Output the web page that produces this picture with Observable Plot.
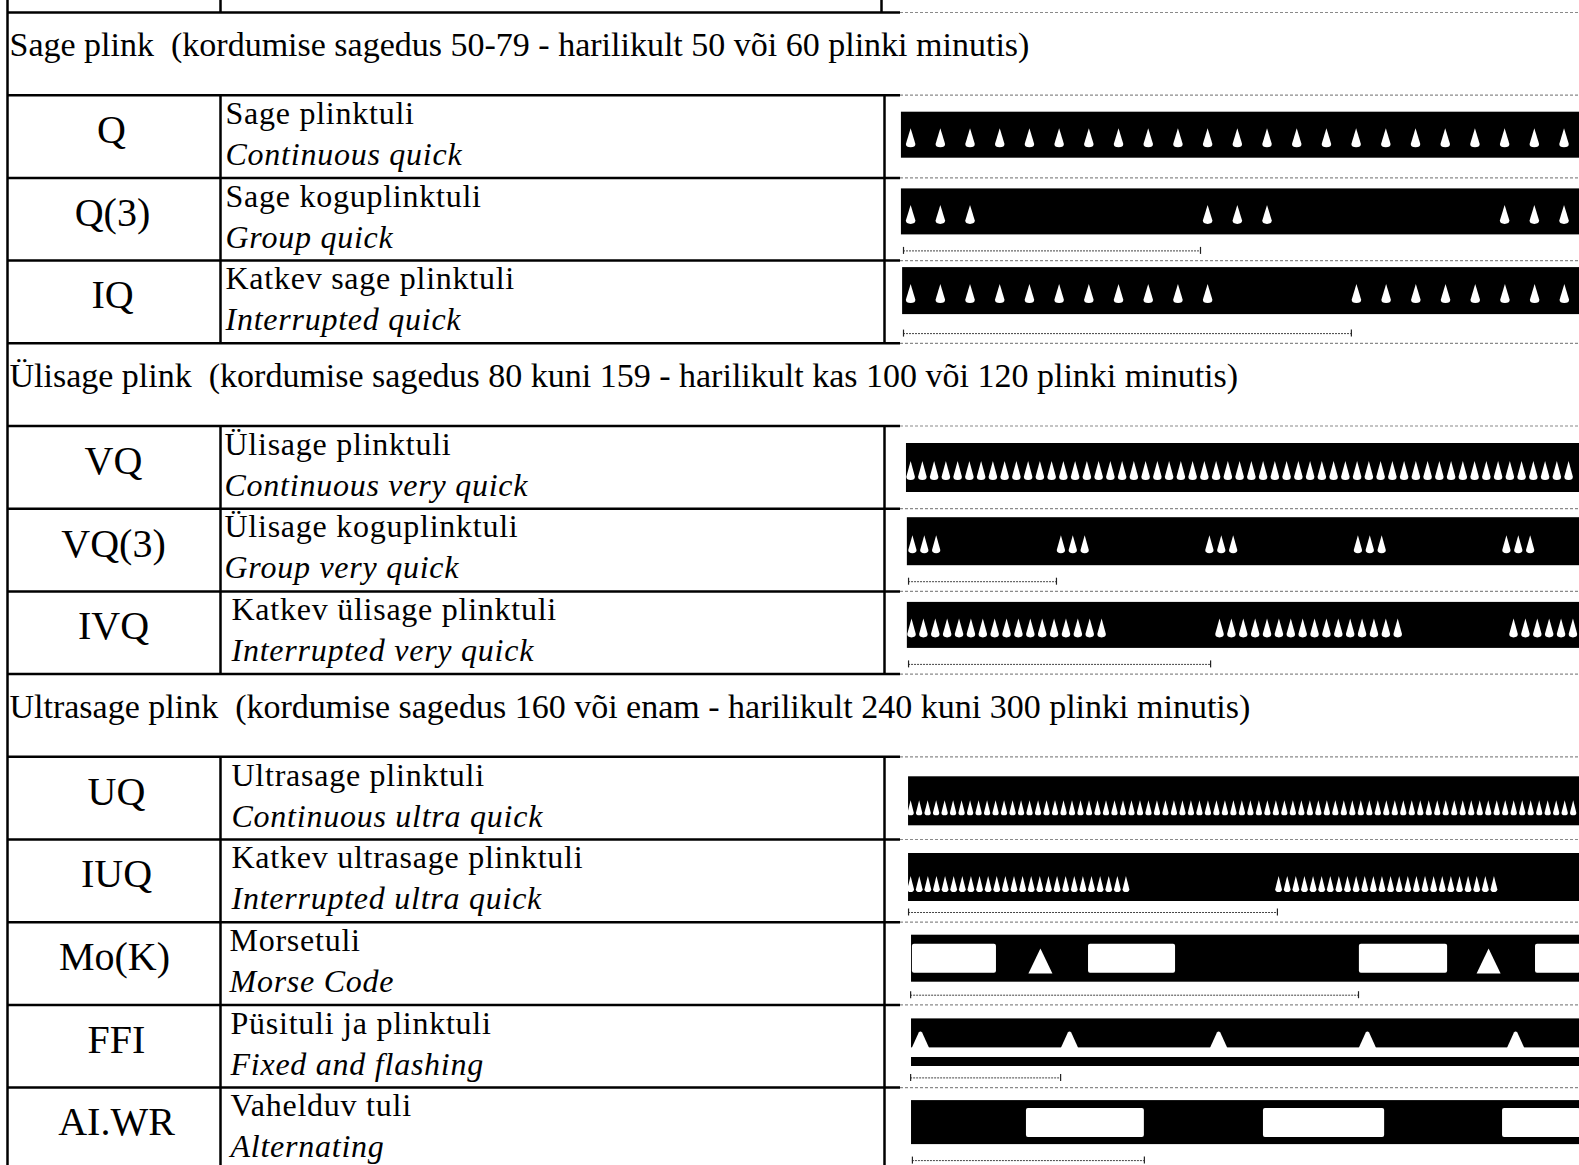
<!DOCTYPE html>
<html><head><meta charset="utf-8">
<script src="https://cdn.jsdelivr.net/npm/d3@7"></script>
<script src="https://cdn.jsdelivr.net/npm/@observablehq/plot@0.6"></script>
<style>
html,body{margin:0;padding:0;background:#fff;}
#wrap{position:relative;width:1579px;height:1165px;overflow:hidden;background:#fff;}
#wrap svg{position:absolute;left:0;top:0;}
</style></head><body><div id="wrap"></div>
<script>
// ---------------- data ----------------
const rowOrder = ["S1","Q","Q(3)","IQ","S2","VQ","VQ(3)","IVQ","S3","UQ","IUQ","Mo(K)","FFI","AI.WR"];
const sectionKeys = ["S1","S2","S3"];
const sectionTitles = [
  "Sage plink  (kordumise sagedus 50-79 - harilikult 50 või 60 plinki minutis)",
  "Ülisage plink  (kordumise sagedus 80 kuni 159 - harilikult kas 100 või 120 plinki minutis)",
  "Ultrasage plink  (kordumise sagedus 160 või enam - harilikult 240 kuni 300 plinki minutis)"
];
const codes = ["Q","Q(3)","IQ","VQ","VQ(3)","IVQ","UQ","IUQ","Mo(K)","FFI","AI.WR"];
const namesEt = ["Sage plinktuli","Sage koguplinktuli","Katkev sage plinktuli","Ülisage plinktuli","Ülisage koguplinktuli","Katkev ülisage plinktuli","Ultrasage plinktuli","Katkev ultrasage plinktuli","Morsetuli","Püsituli ja plinktuli","Vahelduv tuli"];
const namesEn = ["Continuous quick","Group quick","Interrupted quick","Continuous very quick","Group very quick","Interrupted very quick","Continuous ultra quick","Interrupted ultra quick","Morse Code","Fixed and flashing","Alternating"];
// time axis of the light-pattern column (seconds)
const barStart = [-0.07,-0.07,-0.03,0.10,0.13,0.13,0.17,0.17,0.27,0.27,0.27];
const barEnd = 22.8;
// flash groups: row, first flash (s), flashes in the group, interval (s)
const flashGroups = [
  ["Q", 0.24, 23, 1.0],
  ["Q(3)", 0.24, 3, 1.0], ["Q(3)", 10.24, 3, 1.0], ["Q(3)", 20.24, 3, 1.0],
  ["IQ", 0.24, 11, 1.0], ["IQ", 15.25, 8, 1.0],
  ["VQ", 0.24, 57, 0.3956],
  ["VQ(3)", 0.30, 3, 0.40], ["VQ(3)", 5.30, 3, 0.40], ["VQ(3)", 10.30, 3, 0.40], ["VQ(3)", 15.30, 3, 0.40], ["VQ(3)", 20.30, 3, 0.40],
  ["IVQ", 0.27, 17, 0.40], ["IVQ", 10.64, 16, 0.40], ["IVQ", 20.54, 6, 0.40],
  ["UQ", 0.24, 79, 0.286],
  ["IUQ", 0.24, 26, 0.29], ["IUQ", 12.63, 26, 0.29]
];
const morseDashStart = [0.30, 6.23, 15.35, 21.28];
const morseDashEnd = [3.13, 9.16, 18.32, 22.8];
const morseDots = [4.61, 19.70];
const fixedFlashes = [0.57, 5.59, 10.61, 15.62, 20.61];
const whiteStart = [4.14, 12.12, 20.17];
const whiteEnd = [8.11, 16.20, 22.8];
const periodCodes = ["Q(3)","IQ","VQ(3)","IVQ","IUQ","Mo(K)","FFI","AI.WR"];
const periodStart = [0, 0, 0.17, 0.17, 0.17, 0.24, 0.24, 0.30];
const periodEnd = [10.0, 15.08, 5.15, 10.34, 12.59, 15.32, 5.29, 8.11];

// ---------------- layout / style ----------------
const W = 1579, H = 1165, TOP = 12, BAND = 82.7, HALF = BAND / 2;
const COL_LEFT = 7, COL_CODE = 220, COL_NAME = 884, TICK_END = 900;
const T0PX = 903, PXS = 29.7;  // pixel of t = 0 s, pixels per second
const SERIF = "'Liberation Serif','Times New Roman',serif";
const nameX = {"Q":225,"Q(3)":225,"IQ":225,"VQ":224,"VQ(3)":224,"IVQ":231,"UQ":231,"IUQ":231,"Mo(K)":229,"FFI":230,"AI.WR":230};
const codeX = {"Q":111,"Q(3)":112,"IQ":112,"VQ":113,"VQ(3)":113,"IVQ":113,"UQ":116,"IUQ":116,"Mo(K)":114,"FFI":116,"AI.WR":116};
const barBox = {"Q":[17,63],"Q(3)":[11,57],"IQ":[7,54],"VQ":[17.5,66.5],"VQ(3)":[9,57],"IVQ":[11,57],"UQ":[20,69],"IUQ":[14,62],"Mo(K)":[13,60],"FFI":[14,43],"AI.WR":[13,57]};
const flashR = {"Q":9.5,"Q(3)":9.5,"IQ":9.5,"VQ":9.5,"VQ(3)":9,"IVQ":9.5,"UQ":7.5,"IUQ":8};
const flashK = {"Q":0.5,"Q(3)":0.5,"IQ":0.5,"VQ":0.45,"VQ(3)":0.46,"IVQ":0.45,"UQ":0.42,"IUQ":0.42};
const flashLift = {"UQ":4,"IUQ":4};

const spike = k => ({draw(ctx, size) {
  const r = Math.sqrt(size / Math.PI), w = r * k;
  ctx.moveTo(0, -r); ctx.lineTo(w, 0.65 * r);
  ctx.quadraticCurveTo(w, r, 0, r); ctx.quadraticCurveTo(-w, r, -w, 0.65 * r);
  ctx.closePath();
}});
const tri = {draw(ctx, size) {
  const r = Math.sqrt(size / Math.PI);
  ctx.moveTo(0, -r); ctx.lineTo(0.96 * r, r); ctx.lineTo(-0.96 * r, r); ctx.closePath();
}};
const notch = {draw(ctx, size) {
  const r = Math.sqrt(size / Math.PI), h = 2 * r;
  ctx.moveTo(-1.05 * r, 0.5); ctx.lineTo(-0.2 * r, -h + 1.5);
  ctx.quadraticCurveTo(0, -h - 0.5, 0.2 * r, -h + 1.5);
  ctx.lineTo(1.05 * r, 0.5); ctx.closePath();
}};

// ---------------- derived tables ----------------
const lightRows = codes.map((c, i) => ({key: c, code: c, et: namesEt[i], en: namesEn[i], start: barStart[i], end: barEnd}));
const sections = sectionKeys.map((k, i) => ({key: k, title: sectionTitles[i]}));
const flashes = flashGroups.flatMap(([key, t0, n, dt]) => d3.range(n).map(j => ({key, t: t0 + j * dt})));
const periods = periodCodes.map((k, i) => ({key: k, start: periodStart[i], end: periodEnd[i]}));
const periodEnds = periods.flatMap(p => [{key: p.key, t: p.start}, {key: p.key, t: p.end}]);
const dashes = morseDashStart.map((s, i) => ({key: "Mo(K)", start: s, end: morseDashEnd[i]}));
const whites = whiteStart.map((s, i) => ({key: "AI.WR", start: s, end: whiteEnd[i]}));

const yScale = {type: "band", domain: rowOrder, range: [TOP, TOP + rowOrder.length * BAND], padding: 0, round: false, axis: null};
const base = {width: W, height: H, marginTop: 0, marginRight: 0, marginBottom: 0, marginLeft: 0,
  style: {background: "transparent", overflow: "visible"}};

// ---------------- table (left part) ----------------
const table = Plot.plot({
  ...base,
  x: {type: "linear", domain: [0, W], range: [0, W], axis: null},
  y: yScale,
  marks: [
    Plot.tickX([COL_CODE, 881], {x: d => d, y: () => rowOrder[0], dy: -TOP, insetBottom: BAND - TOP, stroke: "#000", strokeWidth: 2.5}),
    Plot.ruleX([COL_LEFT], {stroke: "#000", strokeWidth: 2.5}),
    Plot.ruleY(rowOrder, {y: d => d, x1: TICK_END, x2: W, dy: -HALF, stroke: "#8a8a8a", strokeWidth: 1.2, strokeDasharray: "3,2"}),
    Plot.ruleY(rowOrder, {y: d => d, x1: COL_LEFT, x2: TICK_END, dy: -HALF, stroke: "#000", strokeWidth: 2.5}),
    Plot.tickX(lightRows, {x: () => COL_CODE, y: "key", stroke: "#000", strokeWidth: 2.5}),
    Plot.tickX(lightRows, {x: () => COL_NAME, y: "key", stroke: "#000", strokeWidth: 2.5}),
    Plot.text(sections, {x: 9, y: "key", text: "title", textAnchor: "start", dy: 33 - HALF, fontSize: 34, fontFamily: SERIF, fill: "#000"}),
    Plot.text(lightRows, {x: d => codeX[d.key], y: "key", text: "code", dy: 35 - HALF, fontSize: 40, fontFamily: SERIF, fill: "#000"}),
    Plot.text(lightRows, {x: d => nameX[d.key], y: "key", text: "et", textAnchor: "start", dy: 18.5 - HALF, fontSize: 32, fontFamily: SERIF, fill: "#000"}),
    Plot.text(lightRows, {x: d => nameX[d.key], y: "key", text: "en", textAnchor: "start", dy: 59.5 - HALF, fontSize: 32, fontFamily: SERIF, fontStyle: "italic", fill: "#000"})
  ]
});

// ---------------- light patterns (right part, x in seconds) ----------------
const rowMarks = [];
for (const r of lightRows) {
  const [t, b] = barBox[r.key];
  rowMarks.push(Plot.barX([r], {x1: "start", x2: "end", y: "key", fill: "#000", insetTop: t, insetBottom: BAND - b}));
}
rowMarks.push(Plot.barX(lightRows.filter(r => r.key === "FFI"), {x1: "start", x2: "end", y: "key", fill: "#000", insetTop: 52.6, insetBottom: BAND - 61.6}));
for (const key of Object.keys(flashR)) {
  const [t, b] = barBox[key];
  rowMarks.push(Plot.dot(flashes.filter(f => f.key === key), {x: "t", y: "key", r: flashR[key], symbol: spike(flashK[key]),
    fill: "#fff", stroke: "none", dy: (t + b) / 2 + 2.5 + (flashLift[key] || 0) - HALF}));
}
const pattern = Plot.plot({
  ...base,
  x: {type: "linear", domain: [(0 - T0PX) / PXS, (W - T0PX) / PXS], range: [0, W], axis: null},
  y: yScale,
  marks: [
    ...rowMarks,
    Plot.barX(dashes, {x1: "start", x2: "end", y: "key", fill: "#fff", insetTop: 22, insetBottom: BAND - 51, rx: 2}),
    Plot.dot(morseDots, {x: d => d, y: () => "Mo(K)", r: 12.5, symbol: tri, fill: "#fff", stroke: "none", dy: 38.8 - HALF}),
    Plot.dot(fixedFlashes, {x: d => d, y: () => "FFI", r: 8.5, symbol: notch, fill: "#fff", stroke: "none", dy: 43 - HALF}),
    Plot.barX(whites, {x1: "start", x2: "end", y: "key", fill: "#fff", insetTop: 21, insetBottom: BAND - 50, rx: 2}),
    Plot.ruleY(periods, {x1: "start", x2: "end", y: "key", dy: 73 - HALF, stroke: "#444", strokeWidth: 1, strokeDasharray: "2,1"}),
    Plot.tickX(periodEnds, {x: "t", y: "key", insetTop: 69.5, insetBottom: BAND - 76.5, stroke: "#222", strokeWidth: 1.2})
  ]
});

const wrap = document.getElementById("wrap");
wrap.appendChild(table);
wrap.appendChild(pattern);
const spaced = new Set([...namesEt, ...namesEn]);
for (const t of table.querySelectorAll("text")) {
  if (spaced.has(t.textContent)) t.setAttribute("letter-spacing", "0.75");
}
</script></body></html>
